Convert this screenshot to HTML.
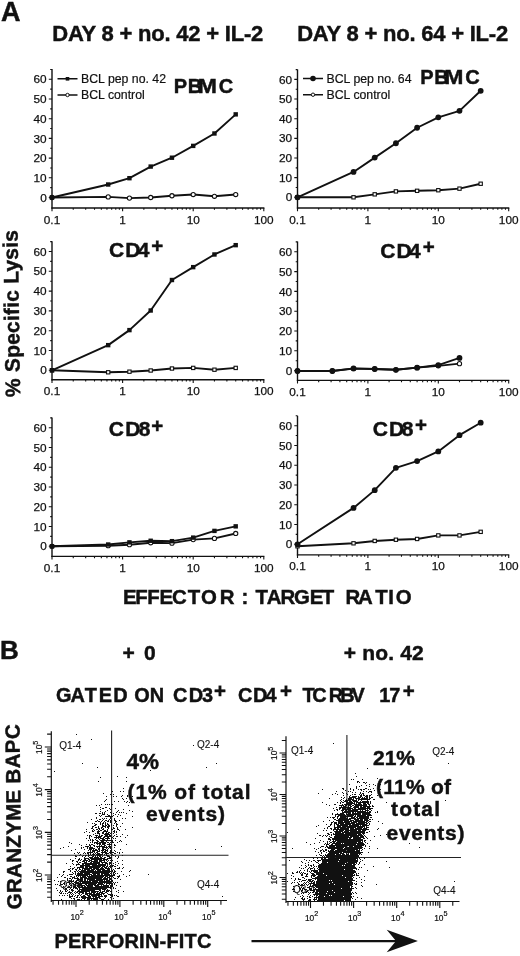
<!DOCTYPE html>
<html><head><meta charset="utf-8">
<style>
html,body{margin:0;padding:0;background:#fff;width:520px;height:956px;overflow:hidden}
svg{display:block;filter:blur(0.35px)}
text{font-family:"Liberation Sans",sans-serif;fill:#111}
.tk{font-size:11.8px;stroke:#111;stroke-width:0.25px}
.lg{font-size:12.3px;stroke:#111;stroke-width:0.2px}
.b{font-weight:bold;stroke:#111;stroke-width:0.45px}
.q{font-size:10px;stroke:#111;stroke-width:0.1px}
.et{font-size:8.4px;stroke:#111;stroke-width:0.2px}
</style></head><body>
<svg width="520" height="956" viewBox="0 0 520 956">
<rect width="520" height="956" fill="#fff"/>
<path d="M52 208.6V69" stroke="#111" stroke-width="1.4" fill="none"/>
<path d="M51.4 208H264.4" stroke="#111" stroke-width="1.4" fill="none"/>
<path d="M48.8 197.5H52M50.2 187.65H52M48.8 177.8H52M50.2 167.95H52M48.8 158.1H52M50.2 148.25H52M48.8 138.4H52M50.2 128.55H52M48.8 118.7H52M50.2 108.85H52M48.8 99H52M50.2 89.15H52M48.8 79.3H52M50.2 69.45H52M52 208V211.2M73.25 208V209.8M85.68 208V209.8M94.51 208V209.8M101.35 208V209.8M106.94 208V209.8M111.66 208V209.8M115.76 208V209.8M119.37 208V209.8M122.6 208V211.2M143.85 208V209.8M156.28 208V209.8M165.11 208V209.8M171.95 208V209.8M177.54 208V209.8M182.26 208V209.8M186.36 208V209.8M189.97 208V209.8M193.2 208V211.2M214.45 208V209.8M226.88 208V209.8M235.71 208V209.8M242.55 208V209.8M248.14 208V209.8M252.86 208V209.8M256.96 208V209.8M260.57 208V209.8M263.8 208V211.2" stroke="#111" stroke-width="1.1" fill="none"/>
<text x="46.7" y="201.6" class="tk" text-anchor="end">0</text>
<text x="46.7" y="181.9" class="tk" text-anchor="end">10</text>
<text x="46.7" y="162.2" class="tk" text-anchor="end">20</text>
<text x="46.7" y="142.5" class="tk" text-anchor="end">30</text>
<text x="46.7" y="122.8" class="tk" text-anchor="end">40</text>
<text x="46.7" y="103.1" class="tk" text-anchor="end">50</text>
<text x="46.7" y="83.4" class="tk" text-anchor="end">60</text>
<text x="52" y="223.5" class="tk" text-anchor="middle">0.1</text>
<text x="122.6" y="223.5" class="tk" text-anchor="middle">1</text>
<text x="193.2" y="223.5" class="tk" text-anchor="middle">10</text>
<text x="263.8" y="223.5" class="tk" text-anchor="middle">100</text>
<path d="M52 197.5 L108.19 196.91 L129.44 198.09 L150.69 197.5 L171.95 195.73 L193.2 194.54 L214.45 196.32 L235.71 194.54" stroke="#111" stroke-width="1.9" fill="none" stroke-linejoin="round"/>
<circle cx="52" cy="197.5" r="2.1" fill="#fff" stroke="#111" stroke-width="1.1"/>
<circle cx="108.19" cy="196.91" r="2.1" fill="#fff" stroke="#111" stroke-width="1.1"/>
<circle cx="129.44" cy="198.09" r="2.1" fill="#fff" stroke="#111" stroke-width="1.1"/>
<circle cx="150.69" cy="197.5" r="2.1" fill="#fff" stroke="#111" stroke-width="1.1"/>
<circle cx="171.95" cy="195.73" r="2.1" fill="#fff" stroke="#111" stroke-width="1.1"/>
<circle cx="193.2" cy="194.54" r="2.1" fill="#fff" stroke="#111" stroke-width="1.1"/>
<circle cx="214.45" cy="196.32" r="2.1" fill="#fff" stroke="#111" stroke-width="1.1"/>
<circle cx="235.71" cy="194.54" r="2.1" fill="#fff" stroke="#111" stroke-width="1.1"/>
<path d="M52 197.5 L108.19 184.5 L129.44 178.19 L150.69 166.57 L171.95 157.71 L193.2 145.89 L214.45 133.47 L235.71 114.37" stroke="#111" stroke-width="1.9" fill="none" stroke-linejoin="round"/>
<rect x="49.8" y="195.3" width="4.4" height="4.4" fill="#111"/>
<rect x="105.99" y="182.3" width="4.4" height="4.4" fill="#111"/>
<rect x="127.24" y="175.99" width="4.4" height="4.4" fill="#111"/>
<rect x="148.49" y="164.37" width="4.4" height="4.4" fill="#111"/>
<rect x="169.75" y="155.51" width="4.4" height="4.4" fill="#111"/>
<rect x="191" y="143.69" width="4.4" height="4.4" fill="#111"/>
<rect x="212.25" y="131.28" width="4.4" height="4.4" fill="#111"/>
<rect x="233.51" y="112.17" width="4.4" height="4.4" fill="#111"/>
<path d="M297.5 208.6V69.4" stroke="#111" stroke-width="1.4" fill="none"/>
<path d="M296.9 208H509.3" stroke="#111" stroke-width="1.4" fill="none"/>
<path d="M294.3 197.3H297.5M295.7 187.48H297.5M294.3 177.65H297.5M295.7 167.83H297.5M294.3 158H297.5M295.7 148.18H297.5M294.3 138.35H297.5M295.7 128.53H297.5M294.3 118.7H297.5M295.7 108.88H297.5M294.3 99.05H297.5M295.7 89.23H297.5M294.3 79.4H297.5M295.7 69.58H297.5M297.5 208V211.2M318.69 208V209.8M331.09 208V209.8M339.89 208V209.8M346.71 208V209.8M352.28 208V209.8M356.99 208V209.8M361.08 208V209.8M364.68 208V209.8M367.9 208V211.2M389.09 208V209.8M401.49 208V209.8M410.29 208V209.8M417.11 208V209.8M422.68 208V209.8M427.39 208V209.8M431.48 208V209.8M435.08 208V209.8M438.3 208V211.2M459.49 208V209.8M471.89 208V209.8M480.69 208V209.8M487.51 208V209.8M493.08 208V209.8M497.79 208V209.8M501.88 208V209.8M505.48 208V209.8M508.7 208V211.2" stroke="#111" stroke-width="1.1" fill="none"/>
<text x="292.2" y="201.4" class="tk" text-anchor="end">0</text>
<text x="292.2" y="181.75" class="tk" text-anchor="end">10</text>
<text x="292.2" y="162.1" class="tk" text-anchor="end">20</text>
<text x="292.2" y="142.45" class="tk" text-anchor="end">30</text>
<text x="292.2" y="122.8" class="tk" text-anchor="end">40</text>
<text x="292.2" y="103.15" class="tk" text-anchor="end">50</text>
<text x="292.2" y="83.5" class="tk" text-anchor="end">60</text>
<text x="297.5" y="223.5" class="tk" text-anchor="middle">0.1</text>
<text x="367.9" y="223.5" class="tk" text-anchor="middle">1</text>
<text x="438.3" y="223.5" class="tk" text-anchor="middle">10</text>
<text x="508.7" y="223.5" class="tk" text-anchor="middle">100</text>
<path d="M297.5 197.3 L353.53 197.3 L374.72 194.35 L395.91 191.41 L417.11 190.82 L438.3 190.23 L459.49 188.65 L480.69 183.74" stroke="#111" stroke-width="1.9" fill="none" stroke-linejoin="round"/>
<rect x="295.85" y="195.65" width="3.3" height="3.3" fill="#fff" stroke="#111" stroke-width="1.1"/>
<rect x="351.88" y="195.65" width="3.3" height="3.3" fill="#fff" stroke="#111" stroke-width="1.1"/>
<rect x="373.07" y="192.7" width="3.3" height="3.3" fill="#fff" stroke="#111" stroke-width="1.1"/>
<rect x="394.26" y="189.75" width="3.3" height="3.3" fill="#fff" stroke="#111" stroke-width="1.1"/>
<rect x="415.46" y="189.17" width="3.3" height="3.3" fill="#fff" stroke="#111" stroke-width="1.1"/>
<rect x="436.65" y="188.58" width="3.3" height="3.3" fill="#fff" stroke="#111" stroke-width="1.1"/>
<rect x="457.84" y="187" width="3.3" height="3.3" fill="#fff" stroke="#111" stroke-width="1.1"/>
<rect x="479.04" y="182.09" width="3.3" height="3.3" fill="#fff" stroke="#111" stroke-width="1.1"/>
<path d="M297.5 197.3 L353.53 171.95 L374.72 157.61 L395.91 143.26 L417.11 127.74 L438.3 117.32 L459.49 110.84 L480.69 90.8" stroke="#111" stroke-width="1.9" fill="none" stroke-linejoin="round"/>
<circle cx="297.5" cy="197.3" r="2.9" fill="#111"/>
<circle cx="353.53" cy="171.95" r="2.9" fill="#111"/>
<circle cx="374.72" cy="157.61" r="2.9" fill="#111"/>
<circle cx="395.91" cy="143.26" r="2.9" fill="#111"/>
<circle cx="417.11" cy="127.74" r="2.9" fill="#111"/>
<circle cx="438.3" cy="117.32" r="2.9" fill="#111"/>
<circle cx="459.49" cy="110.84" r="2.9" fill="#111"/>
<circle cx="480.69" cy="90.8" r="2.9" fill="#111"/>
<path d="M52 380.4V241.2" stroke="#111" stroke-width="1.4" fill="none"/>
<path d="M51.4 379.8H264.4" stroke="#111" stroke-width="1.4" fill="none"/>
<path d="M48.8 370.3H52M50.2 360.4H52M48.8 350.5H52M50.2 340.6H52M48.8 330.7H52M50.2 320.8H52M48.8 310.9H52M50.2 301H52M48.8 291.1H52M50.2 281.2H52M48.8 271.3H52M50.2 261.4H52M48.8 251.5H52M50.2 241.6H52M52 379.8V383M73.25 379.8V381.6M85.68 379.8V381.6M94.51 379.8V381.6M101.35 379.8V381.6M106.94 379.8V381.6M111.66 379.8V381.6M115.76 379.8V381.6M119.37 379.8V381.6M122.6 379.8V383M143.85 379.8V381.6M156.28 379.8V381.6M165.11 379.8V381.6M171.95 379.8V381.6M177.54 379.8V381.6M182.26 379.8V381.6M186.36 379.8V381.6M189.97 379.8V381.6M193.2 379.8V383M214.45 379.8V381.6M226.88 379.8V381.6M235.71 379.8V381.6M242.55 379.8V381.6M248.14 379.8V381.6M252.86 379.8V381.6M256.96 379.8V381.6M260.57 379.8V381.6M263.8 379.8V383" stroke="#111" stroke-width="1.1" fill="none"/>
<text x="46.7" y="374.4" class="tk" text-anchor="end">0</text>
<text x="46.7" y="354.6" class="tk" text-anchor="end">10</text>
<text x="46.7" y="334.8" class="tk" text-anchor="end">20</text>
<text x="46.7" y="315" class="tk" text-anchor="end">30</text>
<text x="46.7" y="295.2" class="tk" text-anchor="end">40</text>
<text x="46.7" y="275.4" class="tk" text-anchor="end">50</text>
<text x="46.7" y="255.6" class="tk" text-anchor="end">60</text>
<text x="52" y="395.3" class="tk" text-anchor="middle">0.1</text>
<text x="122.6" y="395.3" class="tk" text-anchor="middle">1</text>
<text x="193.2" y="395.3" class="tk" text-anchor="middle">10</text>
<text x="263.8" y="395.3" class="tk" text-anchor="middle">100</text>
<path d="M52 370.3 L108.19 372.28 L129.44 371.69 L150.69 370.5 L171.95 368.52 L193.2 367.92 L214.45 369.71 L235.71 367.92" stroke="#111" stroke-width="1.9" fill="none" stroke-linejoin="round"/>
<rect x="50.35" y="368.65" width="3.3" height="3.3" fill="#fff" stroke="#111" stroke-width="1.1"/>
<rect x="106.54" y="370.63" width="3.3" height="3.3" fill="#fff" stroke="#111" stroke-width="1.1"/>
<rect x="127.79" y="370.04" width="3.3" height="3.3" fill="#fff" stroke="#111" stroke-width="1.1"/>
<rect x="149.04" y="368.85" width="3.3" height="3.3" fill="#fff" stroke="#111" stroke-width="1.1"/>
<rect x="170.3" y="366.87" width="3.3" height="3.3" fill="#fff" stroke="#111" stroke-width="1.1"/>
<rect x="191.55" y="366.27" width="3.3" height="3.3" fill="#fff" stroke="#111" stroke-width="1.1"/>
<rect x="212.8" y="368.06" width="3.3" height="3.3" fill="#fff" stroke="#111" stroke-width="1.1"/>
<rect x="234.06" y="366.27" width="3.3" height="3.3" fill="#fff" stroke="#111" stroke-width="1.1"/>
<path d="M52 370.3 L108.19 345.15 L129.44 330.11 L150.69 310.5 L171.95 280.01 L193.2 267.14 L214.45 254.47 L235.71 245.16" stroke="#111" stroke-width="1.9" fill="none" stroke-linejoin="round"/>
<rect x="49.8" y="368.1" width="4.4" height="4.4" fill="#111"/>
<rect x="105.99" y="342.95" width="4.4" height="4.4" fill="#111"/>
<rect x="127.24" y="327.91" width="4.4" height="4.4" fill="#111"/>
<rect x="148.49" y="308.3" width="4.4" height="4.4" fill="#111"/>
<rect x="169.75" y="277.81" width="4.4" height="4.4" fill="#111"/>
<rect x="191" y="264.94" width="4.4" height="4.4" fill="#111"/>
<rect x="212.25" y="252.27" width="4.4" height="4.4" fill="#111"/>
<rect x="233.51" y="242.96" width="4.4" height="4.4" fill="#111"/>
<path d="M297.5 381V241.5" stroke="#111" stroke-width="1.4" fill="none"/>
<path d="M296.9 380.4H509.3" stroke="#111" stroke-width="1.4" fill="none"/>
<path d="M294.3 370.6H297.5M295.7 360.7H297.5M294.3 350.8H297.5M295.7 340.9H297.5M294.3 331H297.5M295.7 321.1H297.5M294.3 311.2H297.5M295.7 301.3H297.5M294.3 291.4H297.5M295.7 281.5H297.5M294.3 271.6H297.5M295.7 261.7H297.5M294.3 251.8H297.5M295.7 241.9H297.5M297.5 380.4V383.6M318.69 380.4V382.2M331.09 380.4V382.2M339.89 380.4V382.2M346.71 380.4V382.2M352.28 380.4V382.2M356.99 380.4V382.2M361.08 380.4V382.2M364.68 380.4V382.2M367.9 380.4V383.6M389.09 380.4V382.2M401.49 380.4V382.2M410.29 380.4V382.2M417.11 380.4V382.2M422.68 380.4V382.2M427.39 380.4V382.2M431.48 380.4V382.2M435.08 380.4V382.2M438.3 380.4V383.6M459.49 380.4V382.2M471.89 380.4V382.2M480.69 380.4V382.2M487.51 380.4V382.2M493.08 380.4V382.2M497.79 380.4V382.2M501.88 380.4V382.2M505.48 380.4V382.2M508.7 380.4V383.6" stroke="#111" stroke-width="1.1" fill="none"/>
<text x="292.2" y="374.7" class="tk" text-anchor="end">0</text>
<text x="292.2" y="354.9" class="tk" text-anchor="end">10</text>
<text x="292.2" y="335.1" class="tk" text-anchor="end">20</text>
<text x="292.2" y="315.3" class="tk" text-anchor="end">30</text>
<text x="292.2" y="295.5" class="tk" text-anchor="end">40</text>
<text x="292.2" y="275.7" class="tk" text-anchor="end">50</text>
<text x="292.2" y="255.9" class="tk" text-anchor="end">60</text>
<text x="297.5" y="395.9" class="tk" text-anchor="middle">0.1</text>
<text x="367.9" y="395.9" class="tk" text-anchor="middle">1</text>
<text x="438.3" y="395.9" class="tk" text-anchor="middle">10</text>
<text x="508.7" y="395.9" class="tk" text-anchor="middle">100</text>
<path d="M297.5 371 L332.34 371 L353.53 368.62 L374.72 369.02 L395.91 369.81 L417.11 367.63 L438.3 365.85 L459.49 363.67" stroke="#111" stroke-width="1.9" fill="none" stroke-linejoin="round"/>
<circle cx="297.5" cy="371" r="2.1" fill="#fff" stroke="#111" stroke-width="1.1"/>
<circle cx="332.34" cy="371" r="2.1" fill="#fff" stroke="#111" stroke-width="1.1"/>
<circle cx="353.53" cy="368.62" r="2.1" fill="#fff" stroke="#111" stroke-width="1.1"/>
<circle cx="374.72" cy="369.02" r="2.1" fill="#fff" stroke="#111" stroke-width="1.1"/>
<circle cx="395.91" cy="369.81" r="2.1" fill="#fff" stroke="#111" stroke-width="1.1"/>
<circle cx="417.11" cy="367.63" r="2.1" fill="#fff" stroke="#111" stroke-width="1.1"/>
<circle cx="438.3" cy="365.85" r="2.1" fill="#fff" stroke="#111" stroke-width="1.1"/>
<circle cx="459.49" cy="363.67" r="2.1" fill="#fff" stroke="#111" stroke-width="1.1"/>
<path d="M297.5 371 L332.34 371 L353.53 368.42 L374.72 369.02 L395.91 369.81 L417.11 367.63 L438.3 365.06 L459.49 357.93" stroke="#111" stroke-width="1.9" fill="none" stroke-linejoin="round"/>
<circle cx="297.5" cy="371" r="2.9" fill="#111"/>
<circle cx="332.34" cy="371" r="2.9" fill="#111"/>
<circle cx="353.53" cy="368.42" r="2.9" fill="#111"/>
<circle cx="374.72" cy="369.02" r="2.9" fill="#111"/>
<circle cx="395.91" cy="369.81" r="2.9" fill="#111"/>
<circle cx="417.11" cy="367.63" r="2.9" fill="#111"/>
<circle cx="438.3" cy="365.06" r="2.9" fill="#111"/>
<circle cx="459.49" cy="357.93" r="2.9" fill="#111"/>
<path d="M52 557V417.5" stroke="#111" stroke-width="1.4" fill="none"/>
<path d="M51.4 556.4H264.4" stroke="#111" stroke-width="1.4" fill="none"/>
<path d="M48.8 546.3H52M50.2 536.42H52M48.8 526.55H52M50.2 516.67H52M48.8 506.8H52M50.2 496.92H52M48.8 487.05H52M50.2 477.17H52M48.8 467.3H52M50.2 457.42H52M48.8 447.55H52M50.2 437.67H52M48.8 427.8H52M50.2 417.92H52M52 556.4V559.6M73.25 556.4V558.2M85.68 556.4V558.2M94.51 556.4V558.2M101.35 556.4V558.2M106.94 556.4V558.2M111.66 556.4V558.2M115.76 556.4V558.2M119.37 556.4V558.2M122.6 556.4V559.6M143.85 556.4V558.2M156.28 556.4V558.2M165.11 556.4V558.2M171.95 556.4V558.2M177.54 556.4V558.2M182.26 556.4V558.2M186.36 556.4V558.2M189.97 556.4V558.2M193.2 556.4V559.6M214.45 556.4V558.2M226.88 556.4V558.2M235.71 556.4V558.2M242.55 556.4V558.2M248.14 556.4V558.2M252.86 556.4V558.2M256.96 556.4V558.2M260.57 556.4V558.2M263.8 556.4V559.6" stroke="#111" stroke-width="1.1" fill="none"/>
<text x="46.7" y="550.4" class="tk" text-anchor="end">0</text>
<text x="46.7" y="530.65" class="tk" text-anchor="end">10</text>
<text x="46.7" y="510.9" class="tk" text-anchor="end">20</text>
<text x="46.7" y="491.15" class="tk" text-anchor="end">30</text>
<text x="46.7" y="471.4" class="tk" text-anchor="end">40</text>
<text x="46.7" y="451.65" class="tk" text-anchor="end">50</text>
<text x="46.7" y="431.9" class="tk" text-anchor="end">60</text>
<text x="52" y="571.9" class="tk" text-anchor="middle">0.1</text>
<text x="122.6" y="571.9" class="tk" text-anchor="middle">1</text>
<text x="193.2" y="571.9" class="tk" text-anchor="middle">10</text>
<text x="263.8" y="571.9" class="tk" text-anchor="middle">100</text>
<path d="M52 546.3 L108.19 545.71 L129.44 544.72 L150.69 542.75 L171.95 543.14 L193.2 539.58 L214.45 538.4 L235.71 533.46" stroke="#111" stroke-width="1.9" fill="none" stroke-linejoin="round"/>
<circle cx="52" cy="546.3" r="2.1" fill="#fff" stroke="#111" stroke-width="1.1"/>
<circle cx="108.19" cy="545.71" r="2.1" fill="#fff" stroke="#111" stroke-width="1.1"/>
<circle cx="129.44" cy="544.72" r="2.1" fill="#fff" stroke="#111" stroke-width="1.1"/>
<circle cx="150.69" cy="542.75" r="2.1" fill="#fff" stroke="#111" stroke-width="1.1"/>
<circle cx="171.95" cy="543.14" r="2.1" fill="#fff" stroke="#111" stroke-width="1.1"/>
<circle cx="193.2" cy="539.58" r="2.1" fill="#fff" stroke="#111" stroke-width="1.1"/>
<circle cx="214.45" cy="538.4" r="2.1" fill="#fff" stroke="#111" stroke-width="1.1"/>
<circle cx="235.71" cy="533.46" r="2.1" fill="#fff" stroke="#111" stroke-width="1.1"/>
<path d="M52 546.3 L108.19 544.52 L129.44 542.35 L150.69 540.77 L171.95 541.16 L193.2 537.61 L214.45 530.89 L235.71 526.35" stroke="#111" stroke-width="1.9" fill="none" stroke-linejoin="round"/>
<rect x="49.8" y="544.1" width="4.4" height="4.4" fill="#111"/>
<rect x="105.99" y="542.32" width="4.4" height="4.4" fill="#111"/>
<rect x="127.24" y="540.15" width="4.4" height="4.4" fill="#111"/>
<rect x="148.49" y="538.57" width="4.4" height="4.4" fill="#111"/>
<rect x="169.75" y="538.96" width="4.4" height="4.4" fill="#111"/>
<rect x="191" y="535.41" width="4.4" height="4.4" fill="#111"/>
<rect x="212.25" y="528.69" width="4.4" height="4.4" fill="#111"/>
<rect x="233.51" y="524.15" width="4.4" height="4.4" fill="#111"/>
<path d="M297.5 555.5V415.8" stroke="#111" stroke-width="1.4" fill="none"/>
<path d="M296.9 554.9H509.3" stroke="#111" stroke-width="1.4" fill="none"/>
<path d="M294.3 544.3H297.5M295.7 534.41H297.5M294.3 524.53H297.5M295.7 514.64H297.5M294.3 504.76H297.5M295.7 494.87H297.5M294.3 484.99H297.5M295.7 475.1H297.5M294.3 465.22H297.5M295.7 455.33H297.5M294.3 445.45H297.5M295.7 435.56H297.5M294.3 425.68H297.5M295.7 415.79H297.5M297.5 554.9V558.1M318.69 554.9V556.7M331.09 554.9V556.7M339.89 554.9V556.7M346.71 554.9V556.7M352.28 554.9V556.7M356.99 554.9V556.7M361.08 554.9V556.7M364.68 554.9V556.7M367.9 554.9V558.1M389.09 554.9V556.7M401.49 554.9V556.7M410.29 554.9V556.7M417.11 554.9V556.7M422.68 554.9V556.7M427.39 554.9V556.7M431.48 554.9V556.7M435.08 554.9V556.7M438.3 554.9V558.1M459.49 554.9V556.7M471.89 554.9V556.7M480.69 554.9V556.7M487.51 554.9V556.7M493.08 554.9V556.7M497.79 554.9V556.7M501.88 554.9V556.7M505.48 554.9V556.7M508.7 554.9V558.1" stroke="#111" stroke-width="1.1" fill="none"/>
<text x="292.2" y="548.4" class="tk" text-anchor="end">0</text>
<text x="292.2" y="528.63" class="tk" text-anchor="end">10</text>
<text x="292.2" y="508.86" class="tk" text-anchor="end">20</text>
<text x="292.2" y="489.09" class="tk" text-anchor="end">30</text>
<text x="292.2" y="469.32" class="tk" text-anchor="end">40</text>
<text x="292.2" y="449.55" class="tk" text-anchor="end">50</text>
<text x="292.2" y="429.78" class="tk" text-anchor="end">60</text>
<text x="297.5" y="570.4" class="tk" text-anchor="middle">0.1</text>
<text x="367.9" y="570.4" class="tk" text-anchor="middle">1</text>
<text x="438.3" y="570.4" class="tk" text-anchor="middle">10</text>
<text x="508.7" y="570.4" class="tk" text-anchor="middle">100</text>
<path d="M297.5 546.28 L353.53 543.31 L374.72 540.94 L395.91 539.75 L417.11 538.96 L438.3 535.4 L459.49 535.4 L480.69 531.84" stroke="#111" stroke-width="1.9" fill="none" stroke-linejoin="round"/>
<rect x="295.85" y="544.63" width="3.3" height="3.3" fill="#fff" stroke="#111" stroke-width="1.1"/>
<rect x="351.88" y="541.66" width="3.3" height="3.3" fill="#fff" stroke="#111" stroke-width="1.1"/>
<rect x="373.07" y="539.29" width="3.3" height="3.3" fill="#fff" stroke="#111" stroke-width="1.1"/>
<rect x="394.26" y="538.1" width="3.3" height="3.3" fill="#fff" stroke="#111" stroke-width="1.1"/>
<rect x="415.46" y="537.31" width="3.3" height="3.3" fill="#fff" stroke="#111" stroke-width="1.1"/>
<rect x="436.65" y="533.75" width="3.3" height="3.3" fill="#fff" stroke="#111" stroke-width="1.1"/>
<rect x="457.84" y="533.75" width="3.3" height="3.3" fill="#fff" stroke="#111" stroke-width="1.1"/>
<rect x="479.04" y="530.19" width="3.3" height="3.3" fill="#fff" stroke="#111" stroke-width="1.1"/>
<path d="M297.5 544.3 L353.53 507.92 L374.72 490.13 L395.91 467.79 L417.11 461.07 L438.3 451.38 L459.49 435.17 L480.69 422.71" stroke="#111" stroke-width="1.9" fill="none" stroke-linejoin="round"/>
<circle cx="297.5" cy="544.3" r="2.9" fill="#111"/>
<circle cx="353.53" cy="507.92" r="2.9" fill="#111"/>
<circle cx="374.72" cy="490.13" r="2.9" fill="#111"/>
<circle cx="395.91" cy="467.79" r="2.9" fill="#111"/>
<circle cx="417.11" cy="461.07" r="2.9" fill="#111"/>
<circle cx="438.3" cy="451.38" r="2.9" fill="#111"/>
<circle cx="459.49" cy="435.17" r="2.9" fill="#111"/>
<circle cx="480.69" cy="422.71" r="2.9" fill="#111"/>
<path d="M57.5 78.8H77.5 M57.5 95.0H77.5" stroke="#111" stroke-width="1.5"/>
<rect x="65.7" y="77" width="3.6" height="3.6" fill="#111"/>
<circle cx="67.5" cy="95" r="1.7" fill="#fff" stroke="#111" stroke-width="1"/>
<text x="81.0" y="83.2" class="lg">BCL pep no. 42</text>
<text x="81.0" y="99.4" class="lg">BCL control</text>
<path d="M303 78.5H323 M303 94.7H323" stroke="#111" stroke-width="1.5"/>
<circle cx="313" cy="78.5" r="2.8" fill="#111"/>
<circle cx="313" cy="94.7" r="1.7" fill="#fff" stroke="#111" stroke-width="1"/>
<text x="326.5" y="82.9" class="lg">BCL pep no. 64</text>
<text x="326.5" y="99.1" class="lg">BCL control</text>
<text x="0.93" y="20.8" class="b" font-size="27">A</text>
<text x="52.3" y="40.6" class="b" font-size="22" textLength="211" lengthAdjust="spacing">DAY 8 + no. 42 + IL-2</text>
<text x="297.2" y="40.6" class="b" font-size="22" textLength="211" lengthAdjust="spacing">DAY 8 + no. 64 + IL-2</text>
<text x="173.76 187.86 218.68" y="93" class="b" font-size="20">PBC</text>
<text transform="translate(197.76,93) scale(1.15,1)" class="b" font-size="20">M</text>
<text x="420.26 434.36 465.18" y="83.6" class="b" font-size="20">PBC</text>
<text transform="translate(444.26,83.6) scale(1.15,1)" class="b" font-size="20">M</text>
<text x="108.94 125.2 137.78" y="256.8" class="b" font-size="21">CD4</text>
<text x="151.34" y="253.4" class="b" font-size="20.5">+</text>
<text x="380.34 396.6 409.08" y="257.5" class="b" font-size="21">CD4</text>
<text x="422.74" y="254.4" class="b" font-size="20.5">+</text>
<text x="108.74 125.2 138.73" y="435.8" class="b" font-size="21">CD8</text>
<text x="151.34" y="432.8" class="b" font-size="20.5">+</text>
<text x="372.64 388.9 401.73" y="435.8" class="b" font-size="21">CD8</text>
<text x="415.04" y="432.1" class="b" font-size="20.5">+</text>
<text transform="translate(20.2,397) rotate(-90.9)" class="b" font-size="21" textLength="167" lengthAdjust="spacing">% Specific Lysis</text>
<text x="123.04 135.14 147.34 159.44 172.06 187.87 201.06 219.84 241.54 255.57 266.79 280.54 294.06 309.84 321.67 345.54 357.89 375.17 388.34 395.86" y="604.4" class="b" font-size="20.4">EFFECTOR:TARGETRATIO</text>
<text x="-0.14" y="658.5" class="b" font-size="26">B</text>
<text x="122.42 143.97" y="659.8" class="b" font-size="21">+0</text>
<text x="343.8" y="660" class="b" font-size="21" textLength="80" lengthAdjust="spacing">+ no. 42</text>
<text x="55.88 70.4 84.78 98.77 113.37 134.28 149.77 172.98 188.77 201.94" y="702" class="b" font-size="19.9">GATEDONCD3</text>
<text x="237.88 253.07 265.6" y="702" class="b" font-size="19.9">CD4</text>
<text x="302.38 312.28 328.67 340.17 351.46 379.25 389.24" y="702.3" class="b" font-size="19.9">TCRBV17</text>
<text x="213.94" y="698.4" class="b" font-size="20.5">+</text>
<text x="279.94" y="698.4" class="b" font-size="20.5">+</text>
<text x="402.74" y="698.4" class="b" font-size="20.5">+</text>
<path d="M51.3 902V731.2 M50.7 900.5H227" stroke="#111" stroke-width="1.2" fill="none"/>
<path d="M47.1 897.31H51.3M47.1 891.98H51.3M47.1 887.84H51.3M47.1 884.47H51.3M47.1 881.61H51.3M47.1 879.14H51.3M47.1 876.95H51.3M44.8 875H51.3M47.1 862.16H51.3M47.1 854.64H51.3M47.1 849.31H51.3M47.1 845.17H51.3M47.1 841.8H51.3M47.1 838.94H51.3M47.1 836.47H51.3M47.1 834.28H51.3M44.8 832.33H51.3M47.1 819.49H51.3M47.1 811.97H51.3M47.1 806.64H51.3M47.1 802.5H51.3M47.1 799.13H51.3M47.1 796.27H51.3M47.1 793.8H51.3M47.1 791.61H51.3M44.8 789.66H51.3M47.1 776.82H51.3M47.1 769.3H51.3M47.1 763.97H51.3M47.1 759.83H51.3M47.1 756.46H51.3M47.1 753.6H51.3M47.1 751.13H51.3M47.1 748.94H51.3M44.8 746.99H51.3M47.1 734.15H51.3M53.05 900.5V904.7M58.53 900.5V904.7M62.78 900.5V904.7M66.26 900.5V904.7M69.2 900.5V904.7M71.75 900.5V904.7M73.99 900.5V904.7M76 900.5V907M89.22 900.5V904.7M96.95 900.5V904.7M102.43 900.5V904.7M106.68 900.5V904.7M110.16 900.5V904.7M113.1 900.5V904.7M115.65 900.5V904.7M117.89 900.5V904.7M119.9 900.5V907M133.12 900.5V904.7M140.85 900.5V904.7M146.33 900.5V904.7M150.58 900.5V904.7M154.06 900.5V904.7M157 900.5V904.7M159.55 900.5V904.7M161.79 900.5V904.7M163.8 900.5V907M177.02 900.5V904.7M184.75 900.5V904.7M190.23 900.5V904.7M194.48 900.5V904.7M197.96 900.5V904.7M200.9 900.5V904.7M203.45 900.5V904.7M205.69 900.5V904.7M207.7 900.5V907M220.92 900.5V904.7" stroke="#111" stroke-width="1.1" fill="none"/>
<path d="M111.6 730.4V900.5 M51.3 855.2H228.5" stroke="#222" stroke-width="1.1" fill="none"/>
<text transform="translate(42.3,882) rotate(-90)" class="et">10<tspan dy="-4.5" font-size="7.2">2</tspan></text>
<text transform="translate(42.3,839.33) rotate(-90)" class="et">10<tspan dy="-4.5" font-size="7.2">3</tspan></text>
<text transform="translate(42.3,796.66) rotate(-90)" class="et">10<tspan dy="-4.5" font-size="7.2">4</tspan></text>
<text transform="translate(42.3,753.99) rotate(-90)" class="et">10<tspan dy="-4.5" font-size="7.2">5</tspan></text>
<text x="70.4" y="919.8" class="et">10<tspan dy="-4.5" font-size="7.2">2</tspan></text>
<text x="114.3" y="919.8" class="et">10<tspan dy="-4.5" font-size="7.2">3</tspan></text>
<text x="158.2" y="919.8" class="et">10<tspan dy="-4.5" font-size="7.2">4</tspan></text>
<text x="202.1" y="919.8" class="et">10<tspan dy="-4.5" font-size="7.2">5</tspan></text>
<text x="59.2" y="749.4" class="q">Q1-4</text>
<text x="197" y="747.9" class="q">Q2-4</text>
<text x="197" y="887.9" class="q">Q4-4</text>
<text x="59.5" y="887.5" class="q">Q3-4</text>
<path d="M286 903V736.3 M285.4 901.5H459.5" stroke="#111" stroke-width="1.2" fill="none"/>
<path d="M281.8 899.2H286M281.8 894.01H286M281.8 889.99H286M281.8 886.71H286M281.8 883.93H286M281.8 881.52H286M281.8 879.4H286M279.5 877.5H286M281.8 865.01H286M281.8 857.7H286M281.8 852.51H286M281.8 848.49H286M281.8 845.21H286M281.8 842.43H286M281.8 840.02H286M281.8 837.9H286M279.5 836H286M281.8 823.51H286M281.8 816.2H286M281.8 811.01H286M281.8 806.99H286M281.8 803.71H286M281.8 800.93H286M281.8 798.52H286M281.8 796.4H286M279.5 794.5H286M281.8 782.01H286M281.8 774.7H286M281.8 769.51H286M281.8 765.49H286M281.8 762.21H286M281.8 759.43H286M281.8 757.02H286M281.8 754.9H286M279.5 753H286M281.8 740.51H286M287.96 901.5V905.7M293.35 901.5V905.7M297.53 901.5V905.7M300.94 901.5V905.7M303.82 901.5V905.7M306.32 901.5V905.7M308.53 901.5V905.7M310.5 901.5V908M323.47 901.5V905.7M331.06 901.5V905.7M336.45 901.5V905.7M340.63 901.5V905.7M344.04 901.5V905.7M346.92 901.5V905.7M349.42 901.5V905.7M351.63 901.5V905.7M353.6 901.5V908M366.57 901.5V905.7M374.16 901.5V905.7M379.55 901.5V905.7M383.73 901.5V905.7M387.14 901.5V905.7M390.02 901.5V905.7M392.52 901.5V905.7M394.73 901.5V905.7M396.7 901.5V908M409.67 901.5V905.7M417.26 901.5V905.7M422.65 901.5V905.7M426.83 901.5V905.7M430.24 901.5V905.7M433.12 901.5V905.7M435.62 901.5V905.7M437.83 901.5V905.7M439.8 901.5V908M452.77 901.5V905.7" stroke="#111" stroke-width="1.1" fill="none"/>
<path d="M346.9 735V901.5 M286 857.5H461" stroke="#222" stroke-width="1.1" fill="none"/>
<text transform="translate(277,884.5) rotate(-90)" class="et">10<tspan dy="-4.5" font-size="7.2">2</tspan></text>
<text transform="translate(277,843) rotate(-90)" class="et">10<tspan dy="-4.5" font-size="7.2">3</tspan></text>
<text transform="translate(277,801.5) rotate(-90)" class="et">10<tspan dy="-4.5" font-size="7.2">4</tspan></text>
<text transform="translate(277,760) rotate(-90)" class="et">10<tspan dy="-4.5" font-size="7.2">5</tspan></text>
<text x="304.9" y="920.8" class="et">10<tspan dy="-4.5" font-size="7.2">2</tspan></text>
<text x="348" y="920.8" class="et">10<tspan dy="-4.5" font-size="7.2">3</tspan></text>
<text x="391.1" y="920.8" class="et">10<tspan dy="-4.5" font-size="7.2">4</tspan></text>
<text x="434.2" y="920.8" class="et">10<tspan dy="-4.5" font-size="7.2">5</tspan></text>
<text x="291" y="753.7" class="q">Q1-4</text>
<text x="432.2" y="755.2" class="q">Q2-4</text>
<text x="433.3" y="893.6" class="q">Q4-4</text>
<text x="293" y="893" class="q">Q3-4</text>
<text x="126.6" y="769" class="b" font-size="22.5">4%</text>
<text x="127.5" y="798.5" class="b" font-size="21" textLength="123" lengthAdjust="spacing">(1% of total</text>
<text x="146" y="820.7" class="b" font-size="21" textLength="79" lengthAdjust="spacing">events)</text>
<text x="373" y="765" class="b" font-size="21">21%</text>
<text x="376" y="793.8" class="b" font-size="21" textLength="75" lengthAdjust="spacing">(11% of</text>
<text x="391" y="816.3" class="b" font-size="21" textLength="49" lengthAdjust="spacing">total</text>
<text x="386.5" y="840" class="b" font-size="21" textLength="78" lengthAdjust="spacing">events)</text>
<text transform="translate(21.5,909.3) rotate(-90.6)" class="b" font-size="20.5" textLength="185" lengthAdjust="spacing">GRANZYME BAPC</text>
<text x="54.5" y="947.7" class="b" font-size="20" textLength="157" lengthAdjust="spacing">PERFORIN-FITC</text>
<path d="M251.5 941.1H398" stroke="#111" stroke-width="2.4"/>
<path d="M386.7 929.8L417.9 941.1L386.7 952.3L396 941.1Z" fill="#111"/>
<path fill="#111" d="M76 734h1v1h-1zM91 739h1v1h-1zM193 745h1v1h-1zM151 756h1v1h-1zM82 763h1v1h-1zM216 763h1v1h-1zM97 767h1v1h-1zM206 767h1v1h-1zM150 770h1v1h-1zM54 771h1v1h-1zM117 776h1v1h-1zM100 777h1v1h-1zM126 777h1v1h-1zM98 781h1v1h-1zM126 781h1v1h-1zM123 788h1v1h-1zM130 790h1v1h-1zM112 791h1v1h-1zM120 791h1v1h-1zM123 791h1v1h-1zM191 792h1v1h-1zM103 793h1v1h-1zM110 794h1v1h-1zM113 794h1v1h-1zM122 795h1v1h-1zM127 795h1v1h-1zM106 796h1v1h-1zM113 796h1v1h-1zM116 796h1v1h-1zM121 796h1v1h-1zM127 796h1v1h-1zM132 796h1v1h-1zM122 798h1v1h-1zM126 798h1v1h-1zM131 798h1v1h-1zM106 799h1v1h-1zM123 799h1v1h-1zM105 800h1v1h-1zM104 801h1v1h-1zM114 801h1v1h-1zM118 801h1v1h-1zM124 801h1v1h-1zM127 801h1v1h-1zM126 802h1v1h-1zM129 802h1v1h-1zM101 804h1v1h-1zM105 804h1v1h-1zM107 804h1v1h-1zM109 804h1v1h-1zM111 804h2v1h-2zM96 805h1v1h-1zM99 805h1v1h-1zM128 805h1v1h-1zM100 807h1v1h-1zM105 807h2v1h-2zM102 808h2v1h-2zM109 808h1v1h-1zM115 808h1v1h-1zM100 809h1v1h-1zM110 809h1v1h-1zM123 809h1v1h-1zM107 810h1v1h-1zM118 810h1v1h-1zM129 810h1v1h-1zM100 811h1v1h-1zM105 811h1v1h-1zM117 811h1v1h-1zM132 811h1v1h-1zM102 812h1v1h-1zM104 812h1v1h-1zM110 812h1v1h-1zM116 812h1v1h-1zM119 812h1v1h-1zM121 812h1v1h-1zM123 812h1v1h-1zM95 813h2v1h-2zM99 813h2v1h-2zM102 813h1v1h-1zM104 813h1v1h-1zM111 813h1v1h-1zM113 813h1v1h-1zM126 813h1v1h-1zM102 814h3v1h-3zM107 814h1v1h-1zM115 814h1v1h-1zM118 814h1v1h-1zM99 815h1v1h-1zM101 815h1v1h-1zM108 815h2v1h-2zM113 815h1v1h-1zM120 815h1v1h-1zM100 816h1v1h-1zM105 816h8v1h-8zM117 816h1v1h-1zM132 816h1v1h-1zM96 817h1v1h-1zM110 817h1v1h-1zM96 818h1v1h-1zM102 818h1v1h-1zM104 818h1v1h-1zM106 818h1v1h-1zM110 818h1v1h-1zM114 818h1v1h-1zM122 818h1v1h-1zM125 818h1v1h-1zM194 818h1v1h-1zM91 819h1v1h-1zM99 819h2v1h-2zM103 819h1v1h-1zM109 819h1v1h-1zM111 819h1v1h-1zM114 819h1v1h-1zM97 820h1v1h-1zM102 820h1v1h-1zM105 820h2v1h-2zM108 820h1v1h-1zM110 820h1v1h-1zM114 820h2v1h-2zM119 820h1v1h-1zM95 821h2v1h-2zM98 821h2v1h-2zM101 821h1v1h-1zM104 821h1v1h-1zM107 821h2v1h-2zM110 821h1v1h-1zM115 821h2v1h-2zM87 822h1v1h-1zM100 822h1v1h-1zM103 822h1v1h-1zM105 822h1v1h-1zM110 822h1v1h-1zM115 822h1v1h-1zM92 823h1v1h-1zM94 823h1v1h-1zM100 823h1v1h-1zM102 823h2v1h-2zM105 823h1v1h-1zM107 823h1v1h-1zM114 823h1v1h-1zM116 823h1v1h-1zM122 823h1v1h-1zM95 824h2v1h-2zM100 824h1v1h-1zM102 824h1v1h-1zM105 824h1v1h-1zM107 824h2v1h-2zM111 824h1v1h-1zM116 824h2v1h-2zM94 825h2v1h-2zM102 825h2v1h-2zM105 825h2v1h-2zM108 825h2v1h-2zM111 825h1v1h-1zM113 825h1v1h-1zM116 825h1v1h-1zM92 826h2v1h-2zM98 826h1v1h-1zM102 826h4v1h-4zM107 826h3v1h-3zM116 826h1v1h-1zM120 826h1v1h-1zM92 827h1v1h-1zM95 827h2v1h-2zM98 827h1v1h-1zM101 827h2v1h-2zM105 827h1v1h-1zM107 827h2v1h-2zM113 827h1v1h-1zM117 827h1v1h-1zM132 827h1v1h-1zM91 828h2v1h-2zM98 828h2v1h-2zM101 828h1v1h-1zM103 828h1v1h-1zM108 828h1v1h-1zM111 828h1v1h-1zM113 828h2v1h-2zM117 828h1v1h-1zM86 829h1v1h-1zM93 829h1v1h-1zM96 829h2v1h-2zM99 829h1v1h-1zM102 829h2v1h-2zM107 829h1v1h-1zM111 829h2v1h-2zM117 829h2v1h-2zM125 829h1v1h-1zM178 829h1v1h-1zM92 830h1v1h-1zM94 830h1v1h-1zM98 830h1v1h-1zM100 830h2v1h-2zM104 830h2v1h-2zM107 830h1v1h-1zM114 830h1v1h-1zM119 830h1v1h-1zM86 831h1v1h-1zM92 831h2v1h-2zM97 831h3v1h-3zM103 831h5v1h-5zM113 831h2v1h-2zM116 831h1v1h-1zM84 832h1v1h-1zM89 832h1v1h-1zM97 832h2v1h-2zM102 832h2v1h-2zM106 832h1v1h-1zM108 832h2v1h-2zM111 832h1v1h-1zM114 832h1v1h-1zM116 832h1v1h-1zM95 833h1v1h-1zM97 833h3v1h-3zM102 833h2v1h-2zM105 833h4v1h-4zM110 833h1v1h-1zM113 833h1v1h-1zM93 834h1v1h-1zM99 834h1v1h-1zM104 834h6v1h-6zM116 834h1v1h-1zM122 834h1v1h-1zM87 835h1v1h-1zM89 835h2v1h-2zM95 835h3v1h-3zM99 835h1v1h-1zM101 835h2v1h-2zM105 835h3v1h-3zM109 835h2v1h-2zM114 835h1v1h-1zM127 835h1v1h-1zM89 836h1v1h-1zM91 836h1v1h-1zM96 836h1v1h-1zM98 836h4v1h-4zM104 836h7v1h-7zM113 836h1v1h-1zM116 836h2v1h-2zM120 836h1v1h-1zM89 837h1v1h-1zM94 837h7v1h-7zM103 837h2v1h-2zM107 837h2v1h-2zM112 837h1v1h-1zM125 837h1v1h-1zM86 838h1v1h-1zM89 838h1v1h-1zM96 838h1v1h-1zM98 838h1v1h-1zM100 838h4v1h-4zM105 838h5v1h-5zM111 838h1v1h-1zM113 838h1v1h-1zM115 838h1v1h-1zM90 839h1v1h-1zM92 839h1v1h-1zM95 839h1v1h-1zM99 839h1v1h-1zM102 839h3v1h-3zM107 839h1v1h-1zM88 840h1v1h-1zM90 840h1v1h-1zM92 840h2v1h-2zM96 840h2v1h-2zM100 840h13v1h-13zM115 840h1v1h-1zM120 840h1v1h-1zM92 841h1v1h-1zM97 841h2v1h-2zM101 841h3v1h-3zM106 841h1v1h-1zM112 841h1v1h-1zM119 841h1v1h-1zM121 841h1v1h-1zM69 842h1v1h-1zM90 842h1v1h-1zM92 842h1v1h-1zM94 842h4v1h-4zM99 842h7v1h-7zM107 842h2v1h-2zM110 842h1v1h-1zM112 842h2v1h-2zM117 842h1v1h-1zM71 843h1v1h-1zM94 843h1v1h-1zM96 843h5v1h-5zM102 843h4v1h-4zM109 843h1v1h-1zM79 844h1v1h-1zM86 844h1v1h-1zM89 844h1v1h-1zM91 844h2v1h-2zM97 844h1v1h-1zM99 844h2v1h-2zM102 844h3v1h-3zM107 844h5v1h-5zM114 844h1v1h-1zM126 844h1v1h-1zM81 845h1v1h-1zM89 845h2v1h-2zM93 845h2v1h-2zM99 845h1v1h-1zM101 845h1v1h-1zM104 845h2v1h-2zM109 845h1v1h-1zM114 845h2v1h-2zM68 846h1v1h-1zM85 846h4v1h-4zM90 846h1v1h-1zM94 846h1v1h-1zM96 846h9v1h-9zM106 846h1v1h-1zM108 846h3v1h-3zM221 846h1v1h-1zM63 847h1v1h-1zM81 847h1v1h-1zM83 847h1v1h-1zM87 847h1v1h-1zM89 847h4v1h-4zM97 847h1v1h-1zM99 847h1v1h-1zM102 847h6v1h-6zM109 847h2v1h-2zM114 847h1v1h-1zM60 848h1v1h-1zM81 848h1v1h-1zM87 848h1v1h-1zM89 848h6v1h-6zM98 848h2v1h-2zM102 848h2v1h-2zM106 848h1v1h-1zM108 848h1v1h-1zM110 848h1v1h-1zM75 849h1v1h-1zM84 849h1v1h-1zM89 849h3v1h-3zM93 849h1v1h-1zM95 849h2v1h-2zM98 849h2v1h-2zM102 849h4v1h-4zM107 849h1v1h-1zM111 849h1v1h-1zM120 849h1v1h-1zM195 849h1v1h-1zM71 850h1v1h-1zM88 850h1v1h-1zM90 850h1v1h-1zM92 850h6v1h-6zM99 850h1v1h-1zM101 850h3v1h-3zM105 850h3v1h-3zM110 850h2v1h-2zM114 850h1v1h-1zM90 851h1v1h-1zM92 851h3v1h-3zM97 851h3v1h-3zM102 851h1v1h-1zM104 851h2v1h-2zM107 851h1v1h-1zM110 851h2v1h-2zM115 851h1v1h-1zM77 852h1v1h-1zM79 852h1v1h-1zM84 852h1v1h-1zM87 852h6v1h-6zM94 852h1v1h-1zM96 852h2v1h-2zM101 852h6v1h-6zM109 852h5v1h-5zM117 852h1v1h-1zM119 852h1v1h-1zM122 852h1v1h-1zM74 853h1v1h-1zM78 853h1v1h-1zM83 853h1v1h-1zM85 853h1v1h-1zM87 853h2v1h-2zM90 853h1v1h-1zM93 853h1v1h-1zM95 853h1v1h-1zM97 853h3v1h-3zM102 853h1v1h-1zM105 853h4v1h-4zM110 853h1v1h-1zM114 853h2v1h-2zM119 853h1v1h-1zM80 854h1v1h-1zM88 854h1v1h-1zM90 854h1v1h-1zM92 854h3v1h-3zM96 854h7v1h-7zM104 854h1v1h-1zM106 854h1v1h-1zM112 854h1v1h-1zM75 855h1v1h-1zM79 855h1v1h-1zM83 855h1v1h-1zM85 855h2v1h-2zM88 855h2v1h-2zM91 855h1v1h-1zM93 855h1v1h-1zM95 855h1v1h-1zM97 855h4v1h-4zM106 855h3v1h-3zM111 855h1v1h-1zM113 855h1v1h-1zM122 855h1v1h-1zM75 856h2v1h-2zM82 856h1v1h-1zM85 856h1v1h-1zM88 856h1v1h-1zM92 856h2v1h-2zM95 856h1v1h-1zM97 856h1v1h-1zM99 856h2v1h-2zM102 856h1v1h-1zM107 856h3v1h-3zM115 856h1v1h-1zM118 856h1v1h-1zM84 857h1v1h-1zM89 857h4v1h-4zM94 857h5v1h-5zM100 857h2v1h-2zM104 857h2v1h-2zM109 857h3v1h-3zM118 857h1v1h-1zM75 858h1v1h-1zM79 858h1v1h-1zM84 858h5v1h-5zM90 858h15v1h-15zM107 858h4v1h-4zM117 858h1v1h-1zM70 859h1v1h-1zM78 859h2v1h-2zM81 859h1v1h-1zM84 859h2v1h-2zM88 859h2v1h-2zM91 859h11v1h-11zM103 859h5v1h-5zM111 859h1v1h-1zM72 860h2v1h-2zM78 860h1v1h-1zM80 860h1v1h-1zM83 860h5v1h-5zM89 860h3v1h-3zM94 860h4v1h-4zM99 860h6v1h-6zM106 860h1v1h-1zM108 860h1v1h-1zM110 860h1v1h-1zM112 860h1v1h-1zM122 860h1v1h-1zM72 861h1v1h-1zM76 861h2v1h-2zM82 861h3v1h-3zM86 861h1v1h-1zM88 861h2v1h-2zM91 861h7v1h-7zM99 861h3v1h-3zM104 861h1v1h-1zM107 861h1v1h-1zM111 861h1v1h-1zM117 861h1v1h-1zM77 862h1v1h-1zM79 862h2v1h-2zM84 862h3v1h-3zM90 862h2v1h-2zM93 862h7v1h-7zM101 862h6v1h-6zM109 862h2v1h-2zM115 862h1v1h-1zM66 863h1v1h-1zM72 863h1v1h-1zM78 863h1v1h-1zM82 863h18v1h-18zM102 863h1v1h-1zM105 863h3v1h-3zM109 863h2v1h-2zM113 863h1v1h-1zM118 863h1v1h-1zM73 864h1v1h-1zM76 864h4v1h-4zM82 864h2v1h-2zM85 864h12v1h-12zM98 864h8v1h-8zM107 864h1v1h-1zM109 864h1v1h-1zM111 864h1v1h-1zM115 864h1v1h-1zM122 864h1v1h-1zM76 865h1v1h-1zM80 865h10v1h-10zM92 865h14v1h-14zM107 865h1v1h-1zM110 865h1v1h-1zM112 865h2v1h-2zM117 865h1v1h-1zM70 866h1v1h-1zM80 866h4v1h-4zM85 866h16v1h-16zM102 866h3v1h-3zM106 866h2v1h-2zM109 866h2v1h-2zM112 866h1v1h-1zM114 866h2v1h-2zM74 867h1v1h-1zM77 867h7v1h-7zM85 867h3v1h-3zM89 867h11v1h-11zM101 867h2v1h-2zM104 867h3v1h-3zM108 867h1v1h-1zM110 867h1v1h-1zM119 867h1v1h-1zM123 867h1v1h-1zM70 868h1v1h-1zM72 868h2v1h-2zM77 868h1v1h-1zM79 868h1v1h-1zM82 868h10v1h-10zM93 868h6v1h-6zM100 868h4v1h-4zM105 868h5v1h-5zM111 868h1v1h-1zM115 868h1v1h-1zM117 868h3v1h-3zM122 868h1v1h-1zM68 869h2v1h-2zM72 869h1v1h-1zM75 869h2v1h-2zM79 869h2v1h-2zM82 869h1v1h-1zM84 869h6v1h-6zM91 869h4v1h-4zM96 869h9v1h-9zM107 869h3v1h-3zM111 869h1v1h-1zM113 869h1v1h-1zM70 870h1v1h-1zM76 870h1v1h-1zM78 870h1v1h-1zM81 870h5v1h-5zM87 870h7v1h-7zM95 870h1v1h-1zM97 870h4v1h-4zM102 870h8v1h-8zM112 870h1v1h-1zM114 870h1v1h-1zM130 870h1v1h-1zM63 871h2v1h-2zM70 871h1v1h-1zM74 871h2v1h-2zM77 871h1v1h-1zM79 871h32v1h-32zM112 871h1v1h-1zM114 871h2v1h-2zM121 871h1v1h-1zM129 871h1v1h-1zM63 872h1v1h-1zM72 872h1v1h-1zM75 872h1v1h-1zM78 872h1v1h-1zM80 872h30v1h-30zM111 872h1v1h-1zM113 872h2v1h-2zM73 873h1v1h-1zM75 873h1v1h-1zM77 873h6v1h-6zM84 873h6v1h-6zM92 873h8v1h-8zM101 873h8v1h-8zM110 873h1v1h-1zM113 873h1v1h-1zM115 873h1v1h-1zM117 873h1v1h-1zM59 874h1v1h-1zM63 874h1v1h-1zM69 874h4v1h-4zM75 874h1v1h-1zM77 874h15v1h-15zM93 874h3v1h-3zM97 874h3v1h-3zM101 874h2v1h-2zM104 874h6v1h-6zM111 874h1v1h-1zM113 874h2v1h-2zM123 874h1v1h-1zM148 874h1v1h-1zM62 875h1v1h-1zM67 875h1v1h-1zM76 875h12v1h-12zM89 875h1v1h-1zM91 875h24v1h-24zM119 875h1v1h-1zM129 875h1v1h-1zM61 876h1v1h-1zM70 876h2v1h-2zM74 876h1v1h-1zM76 876h1v1h-1zM78 876h1v1h-1zM80 876h1v1h-1zM82 876h4v1h-4zM87 876h17v1h-17zM105 876h3v1h-3zM109 876h4v1h-4zM117 876h3v1h-3zM126 876h1v1h-1zM57 877h1v1h-1zM64 877h2v1h-2zM72 877h3v1h-3zM77 877h1v1h-1zM80 877h7v1h-7zM88 877h15v1h-15zM104 877h2v1h-2zM107 877h3v1h-3zM113 877h1v1h-1zM118 877h1v1h-1zM67 878h1v1h-1zM69 878h2v1h-2zM72 878h1v1h-1zM74 878h5v1h-5zM80 878h3v1h-3zM84 878h18v1h-18zM103 878h5v1h-5zM109 878h2v1h-2zM114 878h2v1h-2zM117 878h1v1h-1zM67 879h1v1h-1zM71 879h1v1h-1zM77 879h6v1h-6zM84 879h2v1h-2zM87 879h8v1h-8zM96 879h12v1h-12zM109 879h3v1h-3zM120 879h1v1h-1zM54 880h1v1h-1zM67 880h1v1h-1zM69 880h1v1h-1zM71 880h1v1h-1zM73 880h1v1h-1zM76 880h3v1h-3zM80 880h3v1h-3zM84 880h2v1h-2zM87 880h1v1h-1zM89 880h14v1h-14zM104 880h1v1h-1zM106 880h4v1h-4zM111 880h2v1h-2zM58 881h1v1h-1zM60 881h1v1h-1zM69 881h5v1h-5zM75 881h2v1h-2zM79 881h12v1h-12zM92 881h6v1h-6zM99 881h14v1h-14zM64 882h1v1h-1zM67 882h3v1h-3zM71 882h1v1h-1zM74 882h5v1h-5zM80 882h1v1h-1zM82 882h29v1h-29zM113 882h1v1h-1zM115 882h1v1h-1zM117 882h1v1h-1zM63 883h2v1h-2zM66 883h1v1h-1zM69 883h1v1h-1zM72 883h2v1h-2zM75 883h22v1h-22zM98 883h5v1h-5zM104 883h1v1h-1zM106 883h7v1h-7zM114 883h1v1h-1zM55 884h1v1h-1zM57 884h1v1h-1zM61 884h2v1h-2zM64 884h1v1h-1zM69 884h1v1h-1zM73 884h3v1h-3zM78 884h4v1h-4zM85 884h2v1h-2zM88 884h8v1h-8zM97 884h7v1h-7zM106 884h1v1h-1zM109 884h1v1h-1zM112 884h1v1h-1zM114 884h1v1h-1zM59 885h1v1h-1zM66 885h1v1h-1zM70 885h2v1h-2zM75 885h1v1h-1zM78 885h7v1h-7zM86 885h7v1h-7zM94 885h5v1h-5zM101 885h1v1h-1zM103 885h6v1h-6zM110 885h3v1h-3zM116 885h1v1h-1zM63 886h1v1h-1zM69 886h1v1h-1zM73 886h3v1h-3zM77 886h3v1h-3zM81 886h2v1h-2zM84 886h2v1h-2zM87 886h6v1h-6zM95 886h14v1h-14zM110 886h3v1h-3zM120 886h1v1h-1zM67 887h3v1h-3zM71 887h1v1h-1zM73 887h4v1h-4zM78 887h33v1h-33zM113 887h1v1h-1zM56 888h1v1h-1zM63 888h1v1h-1zM65 888h2v1h-2zM70 888h1v1h-1zM73 888h1v1h-1zM75 888h3v1h-3zM79 888h1v1h-1zM82 888h25v1h-25zM110 888h1v1h-1zM113 888h1v1h-1zM115 888h1v1h-1zM65 889h2v1h-2zM69 889h1v1h-1zM71 889h2v1h-2zM77 889h1v1h-1zM79 889h22v1h-22zM102 889h4v1h-4zM107 889h1v1h-1zM57 890h1v1h-1zM60 890h1v1h-1zM65 890h1v1h-1zM67 890h1v1h-1zM71 890h3v1h-3zM78 890h2v1h-2zM81 890h14v1h-14zM99 890h2v1h-2zM104 890h1v1h-1zM106 890h4v1h-4zM118 890h1v1h-1zM60 891h1v1h-1zM62 891h1v1h-1zM65 891h2v1h-2zM69 891h1v1h-1zM72 891h1v1h-1zM75 891h1v1h-1zM77 891h13v1h-13zM91 891h8v1h-8zM100 891h1v1h-1zM102 891h3v1h-3zM106 891h3v1h-3zM110 891h2v1h-2zM116 891h1v1h-1zM123 891h1v1h-1zM59 892h1v1h-1zM61 892h1v1h-1zM68 892h4v1h-4zM74 892h1v1h-1zM76 892h2v1h-2zM79 892h5v1h-5zM85 892h2v1h-2zM89 892h1v1h-1zM91 892h5v1h-5zM97 892h1v1h-1zM99 892h4v1h-4zM105 892h2v1h-2zM118 892h1v1h-1zM60 893h2v1h-2zM63 893h1v1h-1zM65 893h1v1h-1zM67 893h1v1h-1zM70 893h1v1h-1zM72 893h1v1h-1zM75 893h1v1h-1zM78 893h2v1h-2zM82 893h2v1h-2zM85 893h7v1h-7zM93 893h2v1h-2zM96 893h4v1h-4zM101 893h4v1h-4zM107 893h1v1h-1zM111 893h1v1h-1zM69 894h1v1h-1zM71 894h1v1h-1zM73 894h1v1h-1zM79 894h1v1h-1zM81 894h1v1h-1zM85 894h3v1h-3zM89 894h13v1h-13zM103 894h1v1h-1zM108 894h3v1h-3zM112 894h1v1h-1zM59 895h1v1h-1zM62 895h1v1h-1zM64 895h1v1h-1zM67 895h1v1h-1zM69 895h1v1h-1zM72 895h1v1h-1zM75 895h1v1h-1zM77 895h2v1h-2zM80 895h1v1h-1zM83 895h2v1h-2zM87 895h3v1h-3zM91 895h9v1h-9zM101 895h1v1h-1zM104 895h3v1h-3zM110 895h3v1h-3zM114 895h1v1h-1zM116 895h1v1h-1zM69 896h4v1h-4zM74 896h1v1h-1zM77 896h1v1h-1zM81 896h5v1h-5zM88 896h3v1h-3zM92 896h5v1h-5zM98 896h5v1h-5zM104 896h3v1h-3zM112 896h1v1h-1zM117 896h2v1h-2zM222 896h1v1h-1zM69 897h2v1h-2zM76 897h2v1h-2zM79 897h1v1h-1zM81 897h10v1h-10zM93 897h1v1h-1zM95 897h5v1h-5zM105 897h1v1h-1zM110 897h1v1h-1zM71 898h1v1h-1zM73 898h2v1h-2zM82 898h4v1h-4zM87 898h11v1h-11zM99 898h2v1h-2zM104 898h1v1h-1zM113 898h1v1h-1zM61 899h1v1h-1zM74 899h1v1h-1zM77 899h3v1h-3zM81 899h1v1h-1zM84 899h1v1h-1zM87 899h3v1h-3zM91 899h1v1h-1zM93 899h5v1h-5zM101 899h3v1h-3zM108 899h1v1h-1z"/>
<path fill="#111" d="M333 743h1v1h-1zM310 753h1v1h-1zM448 763h1v1h-1zM413 764h1v1h-1zM367 768h1v1h-1zM355 773h1v1h-1zM356 776h1v1h-1zM377 778h1v1h-1zM351 779h1v1h-1zM353 779h1v1h-1zM362 779h1v1h-1zM357 781h2v1h-2zM357 782h1v1h-1zM359 782h1v1h-1zM363 782h2v1h-2zM366 782h1v1h-1zM365 783h1v1h-1zM349 784h1v1h-1zM369 784h1v1h-1zM373 784h1v1h-1zM380 784h1v1h-1zM361 785h1v1h-1zM366 785h1v1h-1zM375 785h1v1h-1zM356 786h1v1h-1zM359 786h1v1h-1zM369 786h1v1h-1zM356 787h1v1h-1zM342 788h2v1h-2zM350 788h1v1h-1zM356 788h1v1h-1zM365 788h2v1h-2zM373 788h1v1h-1zM322 789h1v1h-1zM343 789h1v1h-1zM350 789h1v1h-1zM353 789h1v1h-1zM358 789h1v1h-1zM360 789h2v1h-2zM363 789h2v1h-2zM368 789h1v1h-1zM370 789h1v1h-1zM380 789h1v1h-1zM345 790h1v1h-1zM353 790h1v1h-1zM361 790h1v1h-1zM374 790h1v1h-1zM336 791h1v1h-1zM348 791h1v1h-1zM350 791h1v1h-1zM363 791h1v1h-1zM366 791h1v1h-1zM369 791h3v1h-3zM342 792h1v1h-1zM352 792h1v1h-1zM355 792h1v1h-1zM360 792h1v1h-1zM368 792h1v1h-1zM371 792h1v1h-1zM318 793h1v1h-1zM335 793h1v1h-1zM343 793h1v1h-1zM346 793h1v1h-1zM360 793h1v1h-1zM362 793h2v1h-2zM332 794h1v1h-1zM337 794h1v1h-1zM347 794h1v1h-1zM352 794h1v1h-1zM354 794h2v1h-2zM359 794h1v1h-1zM361 794h1v1h-1zM363 794h1v1h-1zM371 794h1v1h-1zM343 795h1v1h-1zM350 795h1v1h-1zM360 795h2v1h-2zM363 795h2v1h-2zM366 795h2v1h-2zM369 795h2v1h-2zM377 795h1v1h-1zM349 796h1v1h-1zM352 796h5v1h-5zM358 796h1v1h-1zM360 796h2v1h-2zM365 796h3v1h-3zM369 796h1v1h-1zM341 797h1v1h-1zM344 797h1v1h-1zM349 797h7v1h-7zM358 797h3v1h-3zM362 797h1v1h-1zM364 797h1v1h-1zM366 797h2v1h-2zM369 797h1v1h-1zM371 797h2v1h-2zM329 798h1v1h-1zM343 798h1v1h-1zM348 798h4v1h-4zM353 798h1v1h-1zM355 798h5v1h-5zM361 798h7v1h-7zM369 798h2v1h-2zM341 799h1v1h-1zM346 799h1v1h-1zM348 799h6v1h-6zM356 799h1v1h-1zM358 799h12v1h-12zM373 799h2v1h-2zM340 800h1v1h-1zM343 800h1v1h-1zM345 800h6v1h-6zM352 800h5v1h-5zM358 800h1v1h-1zM361 800h1v1h-1zM367 800h1v1h-1zM445 800h1v1h-1zM341 801h1v1h-1zM344 801h4v1h-4zM349 801h3v1h-3zM353 801h5v1h-5zM360 801h1v1h-1zM362 801h7v1h-7zM370 801h1v1h-1zM322 802h1v1h-1zM337 802h1v1h-1zM340 802h1v1h-1zM342 802h2v1h-2zM346 802h7v1h-7zM354 802h1v1h-1zM356 802h13v1h-13zM370 802h1v1h-1zM386 802h1v1h-1zM340 803h1v1h-1zM346 803h9v1h-9zM356 803h1v1h-1zM358 803h3v1h-3zM363 803h3v1h-3zM367 803h2v1h-2zM370 803h1v1h-1zM326 804h1v1h-1zM334 804h2v1h-2zM342 804h1v1h-1zM344 804h8v1h-8zM354 804h8v1h-8zM363 804h4v1h-4zM368 804h2v1h-2zM329 805h1v1h-1zM339 805h5v1h-5zM345 805h2v1h-2zM348 805h3v1h-3zM352 805h2v1h-2zM355 805h12v1h-12zM369 805h1v1h-1zM372 805h1v1h-1zM341 806h1v1h-1zM343 806h3v1h-3zM348 806h1v1h-1zM350 806h2v1h-2zM354 806h5v1h-5zM360 806h2v1h-2zM363 806h8v1h-8zM372 806h2v1h-2zM336 807h1v1h-1zM339 807h12v1h-12zM353 807h6v1h-6zM360 807h6v1h-6zM367 807h3v1h-3zM333 808h1v1h-1zM339 808h2v1h-2zM342 808h4v1h-4zM347 808h6v1h-6zM354 808h2v1h-2zM358 808h15v1h-15zM336 809h2v1h-2zM339 809h1v1h-1zM342 809h9v1h-9zM352 809h14v1h-14zM367 809h1v1h-1zM369 809h2v1h-2zM334 810h1v1h-1zM337 810h1v1h-1zM341 810h3v1h-3zM345 810h2v1h-2zM348 810h10v1h-10zM360 810h1v1h-1zM362 810h1v1h-1zM365 810h4v1h-4zM371 810h1v1h-1zM342 811h1v1h-1zM344 811h22v1h-22zM367 811h1v1h-1zM369 811h2v1h-2zM377 811h1v1h-1zM342 812h9v1h-9zM352 812h2v1h-2zM355 812h1v1h-1zM357 812h14v1h-14zM375 812h1v1h-1zM377 812h1v1h-1zM332 813h1v1h-1zM337 813h1v1h-1zM340 813h4v1h-4zM346 813h1v1h-1zM348 813h3v1h-3zM352 813h9v1h-9zM362 813h8v1h-8zM419 813h1v1h-1zM332 814h1v1h-1zM335 814h10v1h-10zM346 814h15v1h-15zM362 814h9v1h-9zM335 815h1v1h-1zM338 815h8v1h-8zM347 815h7v1h-7zM355 815h1v1h-1zM357 815h9v1h-9zM367 815h5v1h-5zM335 816h1v1h-1zM337 816h2v1h-2zM340 816h13v1h-13zM354 816h2v1h-2zM357 816h12v1h-12zM327 817h1v1h-1zM330 817h1v1h-1zM332 817h3v1h-3zM337 817h1v1h-1zM340 817h6v1h-6zM347 817h1v1h-1zM351 817h4v1h-4zM356 817h2v1h-2zM359 817h10v1h-10zM370 817h2v1h-2zM333 818h1v1h-1zM337 818h1v1h-1zM339 818h9v1h-9zM349 818h7v1h-7zM357 818h12v1h-12zM334 819h2v1h-2zM338 819h13v1h-13zM354 819h5v1h-5zM360 819h3v1h-3zM364 819h4v1h-4zM369 819h2v1h-2zM372 819h1v1h-1zM329 820h1v1h-1zM336 820h13v1h-13zM350 820h4v1h-4zM355 820h8v1h-8zM364 820h5v1h-5zM323 821h1v1h-1zM333 821h1v1h-1zM338 821h5v1h-5zM344 821h8v1h-8zM353 821h12v1h-12zM366 821h2v1h-2zM369 821h2v1h-2zM378 821h1v1h-1zM331 822h2v1h-2zM334 822h3v1h-3zM338 822h12v1h-12zM351 822h6v1h-6zM358 822h9v1h-9zM368 822h1v1h-1zM331 823h1v1h-1zM334 823h3v1h-3zM338 823h6v1h-6zM345 823h10v1h-10zM356 823h9v1h-9zM366 823h2v1h-2zM369 823h1v1h-1zM382 823h1v1h-1zM326 824h1v1h-1zM330 824h2v1h-2zM334 824h1v1h-1zM336 824h3v1h-3zM340 824h11v1h-11zM352 824h15v1h-15zM369 824h1v1h-1zM318 825h1v1h-1zM330 825h1v1h-1zM334 825h1v1h-1zM337 825h11v1h-11zM349 825h10v1h-10zM360 825h1v1h-1zM362 825h7v1h-7zM316 826h1v1h-1zM328 826h2v1h-2zM334 826h1v1h-1zM337 826h4v1h-4zM342 826h23v1h-23zM366 826h1v1h-1zM327 827h1v1h-1zM334 827h12v1h-12zM347 827h9v1h-9zM357 827h6v1h-6zM364 827h1v1h-1zM366 827h3v1h-3zM324 828h1v1h-1zM327 828h1v1h-1zM330 828h2v1h-2zM334 828h2v1h-2zM337 828h2v1h-2zM340 828h9v1h-9zM350 828h4v1h-4zM355 828h7v1h-7zM363 828h4v1h-4zM378 828h1v1h-1zM331 829h1v1h-1zM333 829h16v1h-16zM350 829h19v1h-19zM377 829h1v1h-1zM323 830h1v1h-1zM326 830h1v1h-1zM333 830h1v1h-1zM336 830h2v1h-2zM339 830h5v1h-5zM345 830h12v1h-12zM358 830h3v1h-3zM362 830h4v1h-4zM334 831h9v1h-9zM344 831h5v1h-5zM350 831h15v1h-15zM369 831h1v1h-1zM287 832h1v1h-1zM330 832h2v1h-2zM335 832h6v1h-6zM342 832h23v1h-23zM366 832h2v1h-2zM317 833h1v1h-1zM327 833h2v1h-2zM333 833h1v1h-1zM335 833h9v1h-9zM345 833h16v1h-16zM362 833h3v1h-3zM328 834h2v1h-2zM331 834h1v1h-1zM333 834h24v1h-24zM358 834h4v1h-4zM363 834h1v1h-1zM386 834h1v1h-1zM396 834h1v1h-1zM319 835h2v1h-2zM323 835h1v1h-1zM325 835h1v1h-1zM327 835h1v1h-1zM331 835h1v1h-1zM335 835h28v1h-28zM364 835h1v1h-1zM380 835h1v1h-1zM322 836h1v1h-1zM326 836h1v1h-1zM329 836h1v1h-1zM334 836h15v1h-15zM350 836h9v1h-9zM360 836h4v1h-4zM365 836h1v1h-1zM374 836h1v1h-1zM330 837h2v1h-2zM334 837h18v1h-18zM353 837h11v1h-11zM366 837h1v1h-1zM315 838h1v1h-1zM328 838h2v1h-2zM332 838h16v1h-16zM349 838h2v1h-2zM353 838h8v1h-8zM363 838h2v1h-2zM367 838h1v1h-1zM328 839h3v1h-3zM332 839h31v1h-31zM320 840h1v1h-1zM330 840h1v1h-1zM333 840h1v1h-1zM335 840h28v1h-28zM364 840h2v1h-2zM370 840h1v1h-1zM323 841h1v1h-1zM327 841h1v1h-1zM329 841h1v1h-1zM332 841h4v1h-4zM337 841h24v1h-24zM362 841h1v1h-1zM364 841h1v1h-1zM306 842h1v1h-1zM319 842h1v1h-1zM327 842h1v1h-1zM330 842h2v1h-2zM333 842h2v1h-2zM336 842h21v1h-21zM358 842h5v1h-5zM365 842h1v1h-1zM314 843h1v1h-1zM325 843h1v1h-1zM327 843h1v1h-1zM329 843h1v1h-1zM332 843h9v1h-9zM342 843h1v1h-1zM344 843h20v1h-20zM367 843h1v1h-1zM409 843h1v1h-1zM310 844h1v1h-1zM324 844h1v1h-1zM326 844h3v1h-3zM331 844h2v1h-2zM335 844h21v1h-21zM357 844h8v1h-8zM326 845h1v1h-1zM329 845h35v1h-35zM365 845h1v1h-1zM321 846h3v1h-3zM326 846h2v1h-2zM329 846h6v1h-6zM336 846h11v1h-11zM349 846h4v1h-4zM354 846h8v1h-8zM365 846h1v1h-1zM369 846h1v1h-1zM320 847h1v1h-1zM325 847h1v1h-1zM327 847h17v1h-17zM345 847h18v1h-18zM419 847h1v1h-1zM292 848h1v1h-1zM314 848h1v1h-1zM318 848h1v1h-1zM328 848h15v1h-15zM344 848h18v1h-18zM364 848h1v1h-1zM369 848h1v1h-1zM377 848h1v1h-1zM316 849h1v1h-1zM322 849h1v1h-1zM325 849h2v1h-2zM331 849h4v1h-4zM337 849h21v1h-21zM359 849h1v1h-1zM362 849h1v1h-1zM320 850h2v1h-2zM323 850h1v1h-1zM325 850h2v1h-2zM328 850h1v1h-1zM330 850h4v1h-4zM335 850h11v1h-11zM347 850h8v1h-8zM356 850h4v1h-4zM361 850h1v1h-1zM315 851h1v1h-1zM320 851h1v1h-1zM323 851h2v1h-2zM328 851h32v1h-32zM318 852h1v1h-1zM321 852h1v1h-1zM326 852h1v1h-1zM329 852h13v1h-13zM343 852h20v1h-20zM368 852h1v1h-1zM321 853h1v1h-1zM328 853h11v1h-11zM340 853h4v1h-4zM346 853h1v1h-1zM348 853h1v1h-1zM350 853h11v1h-11zM319 854h1v1h-1zM325 854h1v1h-1zM327 854h8v1h-8zM336 854h5v1h-5zM342 854h3v1h-3zM346 854h3v1h-3zM350 854h8v1h-8zM359 854h1v1h-1zM361 854h1v1h-1zM316 855h1v1h-1zM320 855h2v1h-2zM323 855h1v1h-1zM325 855h34v1h-34zM322 856h1v1h-1zM324 856h1v1h-1zM326 856h33v1h-33zM312 857h1v1h-1zM320 857h1v1h-1zM323 857h6v1h-6zM330 857h5v1h-5zM336 857h21v1h-21zM359 857h1v1h-1zM361 857h1v1h-1zM313 858h1v1h-1zM317 858h1v1h-1zM321 858h2v1h-2zM324 858h2v1h-2zM328 858h30v1h-30zM359 858h1v1h-1zM364 858h1v1h-1zM304 859h1v1h-1zM321 859h18v1h-18zM340 859h16v1h-16zM357 859h1v1h-1zM360 859h1v1h-1zM289 860h1v1h-1zM306 860h1v1h-1zM309 860h1v1h-1zM313 860h2v1h-2zM317 860h4v1h-4zM322 860h36v1h-36zM362 860h1v1h-1zM301 861h1v1h-1zM311 861h1v1h-1zM315 861h1v1h-1zM318 861h1v1h-1zM322 861h16v1h-16zM339 861h19v1h-19zM360 861h1v1h-1zM386 861h1v1h-1zM302 862h1v1h-1zM308 862h1v1h-1zM316 862h2v1h-2zM322 862h5v1h-5zM328 862h19v1h-19zM348 862h9v1h-9zM359 862h1v1h-1zM305 863h1v1h-1zM318 863h1v1h-1zM321 863h24v1h-24zM346 863h9v1h-9zM356 863h1v1h-1zM359 863h1v1h-1zM308 864h1v1h-1zM313 864h1v1h-1zM319 864h33v1h-33zM353 864h3v1h-3zM358 864h1v1h-1zM364 864h1v1h-1zM301 865h1v1h-1zM305 865h1v1h-1zM308 865h1v1h-1zM310 865h2v1h-2zM313 865h1v1h-1zM318 865h24v1h-24zM343 865h1v1h-1zM345 865h10v1h-10zM306 866h1v1h-1zM311 866h1v1h-1zM314 866h1v1h-1zM316 866h1v1h-1zM318 866h37v1h-37zM373 866h1v1h-1zM299 867h1v1h-1zM305 867h1v1h-1zM309 867h1v1h-1zM313 867h1v1h-1zM318 867h38v1h-38zM359 867h1v1h-1zM361 867h1v1h-1zM389 867h1v1h-1zM301 868h1v1h-1zM303 868h1v1h-1zM308 868h1v1h-1zM310 868h3v1h-3zM314 868h1v1h-1zM317 868h1v1h-1zM319 868h38v1h-38zM307 869h1v1h-1zM310 869h1v1h-1zM314 869h1v1h-1zM318 869h26v1h-26zM345 869h8v1h-8zM356 869h1v1h-1zM358 869h1v1h-1zM300 870h1v1h-1zM304 870h1v1h-1zM307 870h1v1h-1zM311 870h7v1h-7zM319 870h36v1h-36zM367 870h1v1h-1zM297 871h1v1h-1zM299 871h1v1h-1zM307 871h1v1h-1zM309 871h1v1h-1zM311 871h1v1h-1zM313 871h5v1h-5zM319 871h37v1h-37zM292 872h1v1h-1zM296 872h2v1h-2zM299 872h1v1h-1zM301 872h1v1h-1zM303 872h1v1h-1zM310 872h1v1h-1zM314 872h42v1h-42zM287 873h1v1h-1zM292 873h2v1h-2zM300 873h1v1h-1zM302 873h1v1h-1zM304 873h2v1h-2zM307 873h1v1h-1zM311 873h3v1h-3zM316 873h7v1h-7zM324 873h30v1h-30zM356 873h1v1h-1zM358 873h1v1h-1zM301 874h2v1h-2zM306 874h2v1h-2zM312 874h3v1h-3zM316 874h37v1h-37zM354 874h1v1h-1zM356 874h1v1h-1zM291 875h1v1h-1zM301 875h2v1h-2zM306 875h1v1h-1zM311 875h5v1h-5zM318 875h8v1h-8zM327 875h15v1h-15zM343 875h12v1h-12zM356 875h3v1h-3zM293 876h1v1h-1zM305 876h3v1h-3zM311 876h1v1h-1zM313 876h2v1h-2zM317 876h36v1h-36zM364 876h1v1h-1zM302 877h2v1h-2zM311 877h1v1h-1zM315 877h30v1h-30zM346 877h6v1h-6zM353 877h1v1h-1zM359 877h1v1h-1zM291 878h1v1h-1zM295 878h1v1h-1zM298 878h1v1h-1zM304 878h1v1h-1zM312 878h41v1h-41zM356 878h1v1h-1zM295 879h1v1h-1zM298 879h3v1h-3zM306 879h1v1h-1zM308 879h4v1h-4zM315 879h1v1h-1zM317 879h36v1h-36zM361 879h1v1h-1zM294 880h1v1h-1zM302 880h4v1h-4zM308 880h3v1h-3zM312 880h2v1h-2zM317 880h12v1h-12zM330 880h1v1h-1zM332 880h23v1h-23zM364 880h1v1h-1zM287 881h1v1h-1zM299 881h1v1h-1zM301 881h1v1h-1zM307 881h1v1h-1zM309 881h4v1h-4zM314 881h1v1h-1zM316 881h32v1h-32zM349 881h3v1h-3zM356 881h1v1h-1zM454 881h1v1h-1zM292 882h1v1h-1zM294 882h1v1h-1zM297 882h1v1h-1zM304 882h1v1h-1zM306 882h1v1h-1zM308 882h1v1h-1zM311 882h1v1h-1zM313 882h2v1h-2zM316 882h16v1h-16zM333 882h20v1h-20zM361 882h1v1h-1zM291 883h1v1h-1zM298 883h1v1h-1zM303 883h1v1h-1zM305 883h1v1h-1zM309 883h6v1h-6zM316 883h13v1h-13zM330 883h23v1h-23zM354 883h1v1h-1zM356 883h1v1h-1zM298 884h2v1h-2zM301 884h2v1h-2zM304 884h1v1h-1zM306 884h1v1h-1zM308 884h1v1h-1zM310 884h1v1h-1zM313 884h21v1h-21zM335 884h18v1h-18zM355 884h2v1h-2zM376 884h1v1h-1zM296 885h1v1h-1zM300 885h4v1h-4zM307 885h1v1h-1zM310 885h1v1h-1zM312 885h1v1h-1zM314 885h38v1h-38zM361 885h1v1h-1zM293 886h1v1h-1zM298 886h1v1h-1zM309 886h4v1h-4zM315 886h35v1h-35zM351 886h2v1h-2zM362 886h1v1h-1zM299 887h1v1h-1zM301 887h1v1h-1zM303 887h1v1h-1zM307 887h3v1h-3zM313 887h2v1h-2zM316 887h34v1h-34zM351 887h1v1h-1zM355 887h1v1h-1zM293 888h1v1h-1zM299 888h2v1h-2zM302 888h1v1h-1zM309 888h3v1h-3zM315 888h1v1h-1zM318 888h23v1h-23zM342 888h12v1h-12zM356 888h1v1h-1zM292 889h3v1h-3zM300 889h1v1h-1zM302 889h1v1h-1zM304 889h3v1h-3zM309 889h3v1h-3zM313 889h39v1h-39zM301 890h2v1h-2zM307 890h1v1h-1zM310 890h4v1h-4zM316 890h16v1h-16zM333 890h19v1h-19zM293 891h2v1h-2zM301 891h1v1h-1zM306 891h2v1h-2zM313 891h2v1h-2zM316 891h11v1h-11zM328 891h23v1h-23zM302 892h1v1h-1zM305 892h2v1h-2zM308 892h1v1h-1zM310 892h1v1h-1zM312 892h2v1h-2zM315 892h3v1h-3zM319 892h15v1h-15zM335 892h16v1h-16zM352 892h1v1h-1zM355 892h1v1h-1zM301 893h1v1h-1zM303 893h1v1h-1zM309 893h1v1h-1zM315 893h11v1h-11zM327 893h25v1h-25zM353 893h1v1h-1zM356 893h1v1h-1zM308 894h1v1h-1zM313 894h39v1h-39zM302 895h1v1h-1zM310 895h1v1h-1zM314 895h1v1h-1zM316 895h2v1h-2zM319 895h10v1h-10zM330 895h1v1h-1zM332 895h19v1h-19zM300 896h1v1h-1zM303 896h1v1h-1zM307 896h1v1h-1zM309 896h1v1h-1zM312 896h1v1h-1zM316 896h1v1h-1zM318 896h6v1h-6zM325 896h18v1h-18zM344 896h8v1h-8zM353 896h1v1h-1zM295 897h1v1h-1zM302 897h1v1h-1zM309 897h2v1h-2zM314 897h38v1h-38zM357 897h1v1h-1zM301 898h2v1h-2zM304 898h1v1h-1zM307 898h1v1h-1zM314 898h1v1h-1zM316 898h1v1h-1zM318 898h33v1h-33zM352 898h1v1h-1zM361 898h1v1h-1zM294 899h1v1h-1zM302 899h3v1h-3zM309 899h2v1h-2zM313 899h4v1h-4zM318 899h33v1h-33zM355 899h1v1h-1zM303 900h1v1h-1zM308 900h3v1h-3zM314 900h1v1h-1zM317 900h27v1h-27zM345 900h6v1h-6z"/>
</svg>
</body></html>
